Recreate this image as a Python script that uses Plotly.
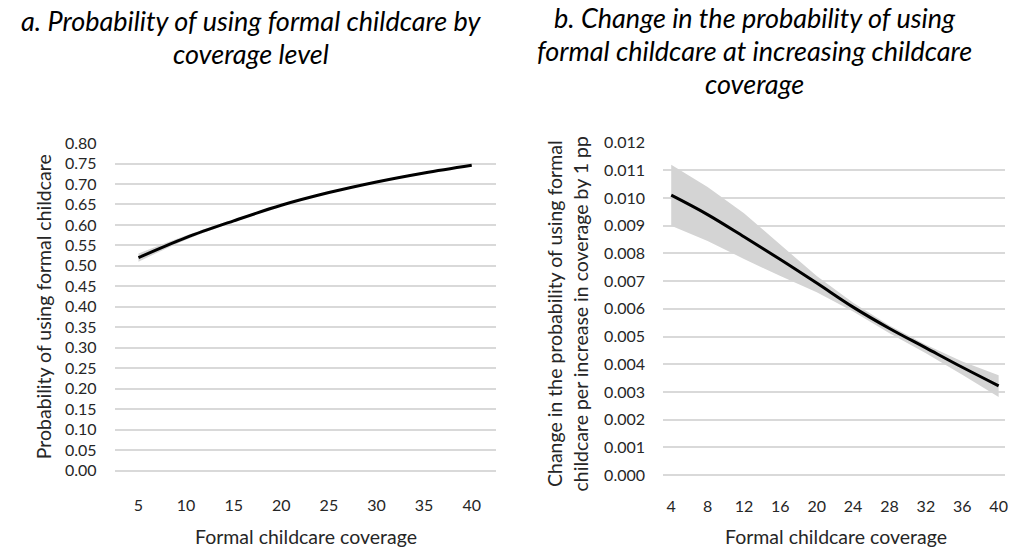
import plotly.graph_objects as go

# Panel a
cov_a = [5, 10, 15, 20, 25, 30, 35, 40]
prob_a = [0.520, 0.569, 0.610, 0.648, 0.679, 0.705, 0.727, 0.746]
prob_a_lo = [0.510, 0.564, 0.607, 0.646, 0.677, 0.703, 0.725, 0.744]
prob_a_hi = [0.530, 0.574, 0.613, 0.650, 0.681, 0.707, 0.729, 0.748]
ticks_a = [0.00, 0.05, 0.10, 0.15, 0.20, 0.25, 0.30, 0.35, 0.40, 0.45, 0.50, 0.55, 0.60, 0.65, 0.70, 0.75, 0.80]

# Panel b
cov_b = [4, 8, 12, 16, 20, 24, 28, 32, 36, 40]
chg_b = [0.01010, 0.00940, 0.00860, 0.00778, 0.00693, 0.00606, 0.00529, 0.00459, 0.00389, 0.00322]
chg_b_hi = [0.01120, 0.01040, 0.00945, 0.00830, 0.00718, 0.00622, 0.00540, 0.00470, 0.00410, 0.00360]
chg_b_lo = [0.00900, 0.00845, 0.00780, 0.00718, 0.00660, 0.00590, 0.00512, 0.00440, 0.00362, 0.00282]
ticks_b = [i / 1000 for i in range(0, 13)]

FONT = "Lato"
TXT = "#262626"
GRID = "#d9d9d9"
BAND = "#d4d4d4"

fig = go.Figure()

# panel a band
fig.add_trace(go.Scatter(x=cov_a, y=prob_a_hi, mode="lines", line=dict(width=0, shape="spline"),
                         xaxis="x", yaxis="y", showlegend=False, hoverinfo="skip"))
fig.add_trace(go.Scatter(x=cov_a, y=prob_a_lo, mode="lines", line=dict(width=0, shape="spline"),
                         fill="tonexty", fillcolor=BAND, xaxis="x", yaxis="y", showlegend=False, hoverinfo="skip"))
fig.add_trace(go.Scatter(x=cov_a, y=prob_a, mode="lines", line=dict(color="black", width=3, shape="spline"),
                         xaxis="x", yaxis="y", showlegend=False))

# panel b band
fig.add_trace(go.Scatter(x=cov_b, y=chg_b_hi, mode="lines", line=dict(width=0),
                         xaxis="x2", yaxis="y2", showlegend=False, hoverinfo="skip"))
fig.add_trace(go.Scatter(x=cov_b, y=chg_b_lo, mode="lines", line=dict(width=0),
                         fill="tonexty", fillcolor=BAND, xaxis="x2", yaxis="y2", showlegend=False, hoverinfo="skip"))
fig.add_trace(go.Scatter(x=cov_b, y=chg_b, mode="lines", line=dict(color="black", width=3, shape="spline"),
                         xaxis="x2", yaxis="y2", showlegend=False))

W, H = 1013, 550
def px(x):
    return x / W
def py(y):
    return 1 - y / H

tickfont = dict(family=FONT, size=16, color=TXT)

fig.update_layout(
    width=W, height=H,
    margin=dict(l=0, r=0, t=0, b=0),
    paper_bgcolor="white", plot_bgcolor="white",
    font=dict(family=FONT, color=TXT),
    xaxis=dict(domain=[px(115), px(497)], range=[2.5, 42.5], tickvals=cov_a,
               showgrid=False, zeroline=False, showline=False, tickfont=tickfont,
               ticklabelstandoff=23, fixedrange=True),
    yaxis=dict(domain=[py(477), py(137.8)], range=[0, 0.8], tickvals=ticks_a,
               tickformat=".2f", showgrid=True, gridcolor=GRID, gridwidth=1.5,
               zeroline=True, zerolinecolor=GRID, zerolinewidth=1.5, showline=False,
               tickfont=tickfont, ticklabelstandoff=17, fixedrange=True),
    xaxis2=dict(domain=[px(665), px(1008)], range=[3.1, 40.7], tickvals=[4, 8, 12, 16, 20, 24, 28, 32, 36, 40],
                showgrid=False, zeroline=False, showline=False, tickfont=tickfont,
                ticklabelstandoff=20, fixedrange=True, anchor="y2"),
    yaxis2=dict(domain=[py(481.7), py(137.3)], range=[0, 0.012], tickvals=ticks_b,
                tickformat=".3f", showgrid=True, gridcolor=GRID, gridwidth=1.5,
                zeroline=True, zerolinecolor=GRID, zerolinewidth=1.5, showline=False,
                tickfont=tickfont, ticklabelstandoff=17, fixedrange=True, anchor="x2"),
)

titlefont = dict(family=FONT, size=27, color="black")
axfont = dict(family=FONT, size=19.5, color=TXT)
ann = [
    dict(x=px(252), y=py(-8), text="<i>a. Probability of using formal childcare by</i>",
         font=titlefont, yanchor="top"),
    dict(x=px(252), y=py(26), text="<i>coverage level</i>",
         font=titlefont, yanchor="top"),
    dict(x=px(757), y=py(-11), text="<i>b. Change in the probability of using</i>",
         font=titlefont, yanchor="top"),
    dict(x=px(757), y=py(23), text="<i>formal childcare at increasing childcare</i>",
         font=titlefont, yanchor="top"),
    dict(x=px(757), y=py(57), text="<i>coverage</i>",
         font=titlefont, yanchor="top"),
    dict(x=px(307), y=py(545), text="Formal childcare coverage", font=axfont, yanchor="middle"),
    dict(x=px(838), y=py(545), text="Formal childcare coverage", font=axfont, yanchor="middle"),
    dict(x=px(44), y=py(307), text="Probability of using formal childcare", font=axfont, textangle=-90,
         yanchor="middle"),
    dict(x=px(569), y=py(314), text="Change in the probability of using formal<br>childcare per increase in coverage by 1 pp",
         font=axfont, textangle=-90, yanchor="middle"),
]
for a in ann:
    a.update(xref="paper", yref="paper", showarrow=False, xanchor="center")
    fig.add_annotation(**a)

fig.write_html("out.html")
